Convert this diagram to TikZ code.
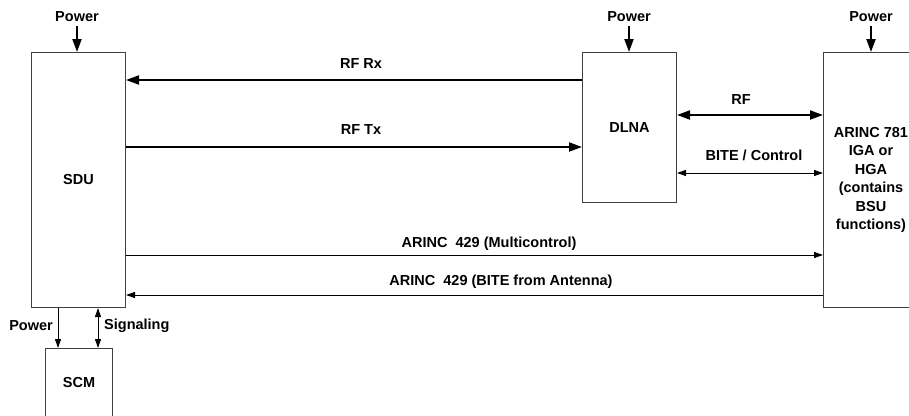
\documentclass[tikz,border=0pt]{standalone}
\usepackage{fontspec}
\setmainfont{Liberation Sans}
\usetikzlibrary{arrows.meta}
\begin{document}
\begin{tikzpicture}[x=1pt,y=-1pt,
  font=\fontsize{14.5}{18.4}\selectfont\bfseries,
  box/.style={draw=black!75, line width=1pt, rectangle, anchor=north west, inner sep=0pt, align=center},
  lbl/.style={inner sep=0pt},
  powarr/.style={line width=2pt, -{Triangle[length=13pt,width=9pt]}},
  thickarr/.style={line width=2pt, -{Triangle[length=13pt,width=9pt]}},
  thickboth/.style={line width=2pt, {Triangle[length=13pt,width=9pt]}-{Triangle[length=13pt,width=9pt]}},
  thinarr/.style={line width=1pt, -{Triangle[length=9pt,width=6pt]}},
  thinboth/.style={line width=1pt, {Triangle[length=9pt,width=6pt]}-{Triangle[length=9pt,width=6pt]}}]
\useasboundingbox (0,0) rectangle (909,415);

% boxes
\node[box, minimum width=94pt, minimum height=255pt] (sdu) at (31,52) {SDU};
\node[box, minimum width=67pt, minimum height=68pt] (scm) at (45,348) {SCM};
\node[box, minimum width=94pt, minimum height=150pt] (dlna) at (582,52) {DLNA};
\node[box, minimum width=95pt, minimum height=255pt] (arinc) at (823,52)
  {ARINC 781\\IGA or\\HGA\\(contains\\BSU\\functions)};

% power labels
\node (pw1) at (77,17) {Power};
\node (pw2) at (629,17) {Power};
\node (pw3) at (871,17) {Power};
\draw[powarr] (pw1.south) -- (pw1.south |- sdu.north);
\draw[powarr] (pw2.south) -- (pw2.south |- dlna.north);
\draw[powarr] (pw3.south) -- (pw3.south |- arinc.north);

% RF Rx / RF Tx
\draw[thickarr] (dlna.west |- 0,80) -- (sdu.east |- 0,80);
\node[lbl] (rfrx) at (361,64) {RF Rx};
\draw[thickarr] (sdu.east |- 0,147) -- (dlna.west |- 0,147);
\node[lbl] (rftx) at (361,130) {RF Tx};

% DLNA <-> ARINC
\draw[thickboth] (dlna.east |- 0,115) -- (arinc.west |- 0,115);
\node[lbl] (rf) at (741,100) {RF};
\draw[thinboth] (dlna.east |- 0,173) -- (arinc.west |- 0,173);
\node[lbl] (bite) at (754,155) {BITE / Control};

% ARINC 429 lines
\draw[thinarr] (sdu.east |- 0,255) -- (arinc.west |- 0,255);
\node[lbl] (a429a) at (489,244) {ARINC\ \ 429 (Multicontrol)};
\draw[thinarr] (arinc.west |- 0,295) -- (sdu.east |- 0,295);
\node[lbl] (a429b) at (501,282) {ARINC\ \ 429 (BITE from Antenna)};

% SDU - SCM
\draw[thinarr] (sdu.south -| 58,0) -- (scm.north -| 58,0);
\draw[thinboth] (sdu.south -| 98,0) -- (scm.north -| 98,0);
\node[lbl, anchor=east] (pw4) at (53,326) {Power};
\node[lbl, anchor=west] (sig) at (104,326) {Signaling};
\end{tikzpicture}
\end{document}
